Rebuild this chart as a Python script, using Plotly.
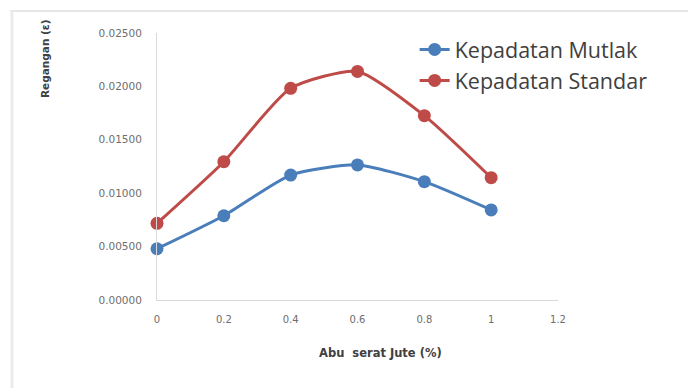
import plotly.graph_objects as go

x_vals = [0, 0.2, 0.4, 0.6, 0.8, 1.0]
mutlak = [0.00480, 0.00789, 0.01170, 0.01265, 0.01108, 0.00843]
standar = [0.00718, 0.01295, 0.01982, 0.02140, 0.01726, 0.01145]
x_ticks = [0, 0.2, 0.4, 0.6, 0.8, 1.0, 1.2]
x_tick_text = ["0", "0.2", "0.4", "0.6", "0.8", "1", "1.2"]
y_ticks = [0, 0.005, 0.01, 0.015, 0.02, 0.025]
y_tick_text = ["0.00000", "0.00500", "0.01000", "0.01500", "0.02000", "0.02500"]

fig = go.Figure()
fig.add_trace(go.Scatter(x=x_vals, y=mutlak, name="Kepadatan Mutlak", mode="lines+markers",
                         line=dict(color="#4A7EBB", width=3, shape="spline", smoothing=0.6),
                         marker=dict(size=13, color="#4A7EBB"), cliponaxis=False))
fig.add_trace(go.Scatter(x=x_vals, y=standar, name="Kepadatan Standar", mode="lines+markers",
                         line=dict(color="#BE4B48", width=3, shape="spline", smoothing=0.6),
                         marker=dict(size=13, color="#BE4B48"), cliponaxis=False))

# page body has an 8px margin, so the figure is shifted by 8px right and down
W, H = 401, 267
fig.update_layout(
    width=696, height=388,
    margin=dict(l=149, r=146, t=25, b=96),
    paper_bgcolor="white", plot_bgcolor="white",
    font=dict(family="DejaVu Sans", color="#595959"),
    showlegend=True,
    legend=dict(x=0.6425, y=1.015, xanchor="left", yanchor="top",
                font=dict(family="Open Sans", size=21.5, color="#404040"), bgcolor="rgba(0,0,0,0)",
                itemwidth=30, tracegroupgap=0),
    xaxis=dict(range=[0, 1.2], tickvals=x_ticks, ticktext=x_tick_text,
               showgrid=False, zeroline=False, showline=True, linecolor="#D9D9D9", linewidth=1,
               ticks="", tickfont=dict(size=10, color="#6E6E6E"), ticklabelstandoff=10),
    yaxis=dict(range=[0, 0.025], tickvals=y_ticks, ticktext=y_tick_text,
               showgrid=False, zeroline=False, showline=True, linecolor="#D9D9D9", linewidth=1,
               ticks="", tickfont=dict(size=10.5, color="#6E6E6E"), ticklabelstandoff=12),
    annotations=[
        dict(text="<b>Abu  serat Jute (%)</b>", xref="paper", yref="paper",
             x=(380 - 157) / W, y=-53 / H, xanchor="center", yanchor="middle",
             showarrow=False, font=dict(size=11.5, color="#404040")),
        dict(text="<b>Regangan (ε)</b>", xref="paper", yref="paper",
             x=(45 - 157) / W, y=(300 - 59) / H, xanchor="center", yanchor="middle",
             textangle=-90, showarrow=False, font=dict(size=10.5, color="#404040")),
    ],
    shapes=[
        dict(type="line", xref="paper", yref="paper", x0=(10 - 157) / W, x1=(700 - 157) / W,
             y0=(300 - 11) / H, y1=(300 - 11) / H, line=dict(color="#E6E6E6", width=2)),
        dict(type="line", xref="paper", yref="paper", x0=(12 - 157) / W, x1=(12 - 157) / W,
             y0=(300 - 11) / H, y1=(300 - 392) / H, line=dict(color="#EBEBEB", width=3)),
    ],
)

fig.write_html("out.html")
